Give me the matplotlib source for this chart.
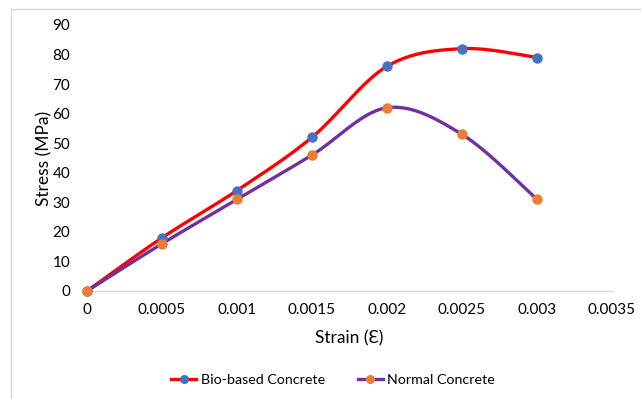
import numpy as np
import matplotlib
matplotlib.use("Agg")
import matplotlib.pyplot as plt
from matplotlib.lines import Line2D

plt.rcParams['font.family'] = ['Lato', 'DejaVu Sans']

strain = [0, 0.0005, 0.001, 0.0015, 0.002, 0.0025, 0.003]
bio = [0, 18, 34, 52, 76, 82, 79]
normal = [0, 16, 31, 46, 62, 53, 31]
x_ticks = [0, 0.0005, 0.001, 0.0015, 0.002, 0.0025, 0.003, 0.0035]
x_ticklabels = ['0', '0.0005', '0.001', '0.0015', '0.002', '0.0025', '0.003', '0.0035']
y_ticks = [0, 10, 20, 30, 40, 50, 60, 70, 80, 90]

XMAX, YMAX = 0.0035, 90
W, H = 525.0, 266.0  # approx plot size in pixels for smoothing scale


def smooth(xs, ys, n=40):
    # Excel-like smoothing: cubic Bezier with Catmull-Rom control points, in pixel-scaled space
    px = np.array(xs) / XMAX * W
    py = np.array(ys) / YMAX * H
    pts = np.column_stack([px, py])
    out = []
    for i in range(len(pts) - 1):
        p0 = pts[i - 1] if i > 0 else pts[i]
        p1 = pts[i]
        p2 = pts[i + 1]
        p3 = pts[i + 2] if i + 2 < len(pts) else pts[i + 1]
        c1 = p1 + (p2 - p0) / 6.0
        c2 = p2 - (p3 - p1) / 6.0
        t = np.linspace(0, 1, n)[:, None]
        seg = (1 - t) ** 3 * p1 + 3 * (1 - t) ** 2 * t * c1 + 3 * (1 - t) * t ** 2 * c2 + t ** 3 * p2
        out.append(seg if i == 0 else seg[1:])
    out = np.vstack(out)
    return out[:, 0] / W * XMAX, out[:, 1] / H * YMAX


fig = plt.figure(figsize=(6.41, 3.99), dpi=100)
# outer chart border
fig.patches.append(plt.Rectangle((11 / 641, -0.01), 1.0, 1 - 9 / 399 + 0.01, transform=fig.transFigure,
                                 fill=False, edgecolor='#d9d9d9', linewidth=1.0))
ax = fig.add_axes([87 / 641, 1 - 291 / 399, 525 / 641, 266 / 399])

series = [(bio, '#ff0000', '#4472c4', 'Bio-based Concrete'),
          (normal, '#7030a0', '#ed7d31', 'Normal Concrete')]
handles = []
for ys, lc, mc, lab in series:
    sx, sy = smooth(strain, ys)
    ax.plot(sx, sy, color=lc, lw=2.4, solid_capstyle='round', zorder=2)
    ax.plot(strain, ys, 'o', color=mc, ms=6.5, mec=mc, zorder=3, clip_on=False)
    handles.append(Line2D([0], [0], color=lc, lw=2.4, marker='o', ms=5.5, mfc=mc, mec=mc))

ax.set_xlim(0, XMAX)
ax.set_ylim(0, YMAX)
ax.set_xticks(x_ticks)
ax.set_xticklabels(x_ticklabels)
ax.set_yticks(y_ticks)
ax.tick_params(length=0, labelsize=11, colors='#000000', pad=9)
ax.tick_params(axis='y', pad=12)
for s in ['top', 'right', 'left']:
    ax.spines[s].set_visible(False)
ax.spines['bottom'].set_color('#d9d9d9')
ax.spines['bottom'].set_linewidth(1.0)

ax.set_xlabel('Strain (Ɛ)', fontsize=12.5, labelpad=9)
ax.set_ylabel('Stress (MPa)', fontsize=12.5, labelpad=0)

fig.legend(handles, [s[3] for s in series], loc='center', bbox_to_anchor=(333 / 641, 1 - 380 / 399),
           ncol=2, frameon=False, fontsize=10.3, handlelength=1.75, columnspacing=2.3, handletextpad=0.3)

fig.savefig('out.png', dpi=100)
